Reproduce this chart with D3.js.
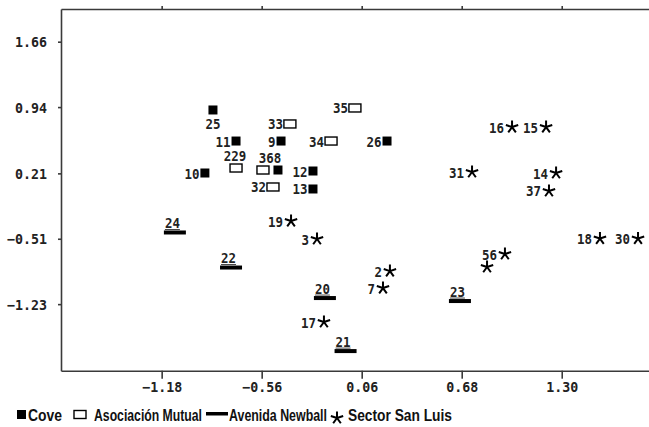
<!DOCTYPE html>
<html>
<head>
<meta charset="utf-8">
<script src="https://cdn.jsdelivr.net/npm/d3@7"></script>
<style>
  body { margin: 0; background: #fff; }
  svg { display: block; }
</style>
</head>
<body>
<div id="chart"></div>
<script>
// axis ticks as printed on the chart
const xTicks = [-1.18, -0.56, 0.06, 0.68, 1.30];
const yTicks = [1.66, 0.94, 0.21, -0.51, -1.23];

// Cove (filled squares)
const coveLabels = ["25", "11", "9", "26", "10", "", "12", "13"];
const coveX = [-0.862, -0.719, -0.440, 0.217, -0.912, -0.459, -0.242, -0.242];
const coveY = [0.908, 0.566, 0.566, 0.566, 0.214, 0.247, 0.236, 0.038];

// Asociación Mutual (hollow squares)
const mutualLabels = ["35", "33", "34", "229", "368", "32"];
const mutualX = [0.018, -0.385, -0.130, -0.719, -0.552, -0.490];
const mutualY = [0.930, 0.754, 0.566, 0.269, 0.247, 0.060];

// Avenida Newball (bars)
const newballLabels = ["24", "22", "20", "21", "23"];
const newballX = [-1.098, -0.750, -0.168, -0.040, 0.669];
const newballY = [-0.441, -0.827, -1.163, -1.747, -1.196];

// Sector San Luis (stars)
const sanLuisLabels = ["19", "3", "2", "7", "17", "16", "15", "31", "14", "37", "18", "30", "56", ""];
const sanLuisX = [-0.378, -0.217, 0.235, 0.192, -0.174, 0.992, 1.203, 0.744, 1.265, 1.221, 1.537, 1.773, 0.948, 0.837];
const sanLuisY = [-0.315, -0.513, -0.866, -1.053, -1.427, 0.720, 0.720, 0.225, 0.214, 0.016, -0.508, -0.508, -0.678, -0.821];

const legendNames = ["Cove", "Asociación Mutual", "Avenida Newball", "Sector San Luis"];

// where a label sits if not to the left of its marker
const labelPlace = {
    "25": { pos: "below" },
    "229": { pos: "above", dx: -1 },
    "368": { pos: "above", dx: 7 }
};

const width = 649, height = 427;
const margin = { left: 61, top: 9, bottom: 56 };
const monoFont = "'DejaVu Sans Mono', 'Liberation Mono', monospace";

let svg = d3.select("#chart")
    .append("svg")
    .attr("width", width)
    .attr("height", height);

let x = d3.scaleLinear()
    .domain([-1.804, 1.841])
    .range([margin.left, width]);

let y = d3.scaleLinear()
    .domain([-1.963, 2.02])
    .range([height - margin.bottom - 0.3, margin.top]);

function build(labels, xs, ys) {
    return labels.map((l, i) => ({ label: l, x: xs[i], y: ys[i] }));
}
const cove = build(coveLabels, coveX, coveY);
const mutual = build(mutualLabels, mutualX, mutualY);
const newball = build(newballLabels, newballX, newballY);
const sanLuis = build(sanLuisLabels, sanLuisX, sanLuisY);

// ---- axes ----
const axisColor = "#3a3a3a";
let fmt = d3.format(".2f");

let gLeft = svg.append("g")
    .attr("transform", "translate(" + margin.left + ",0)")
    .call(d3.axisLeft(y).tickValues(yTicks).tickSize(3).tickSizeOuter(0).tickPadding(11).tickFormat(fmt));

let gBottom = svg.append("g")
    .attr("transform", "translate(0," + y.range()[0] + ")")
    .call(d3.axisBottom(x).tickValues(xTicks).tickSize(8).tickSizeOuter(0).tickPadding(3).tickFormat(fmt));

let gTop = svg.append("g")
    .attr("transform", "translate(0," + margin.top + ")")
    .call(d3.axisTop(x).tickValues(xTicks).tickSize(3).tickSizeOuter(0).tickFormat(""));

[gLeft, gBottom, gTop].forEach(g => {
    g.select(".domain").attr("stroke", axisColor).attr("stroke-width", 1.6);
    g.selectAll(".tick line").attr("stroke", axisColor).attr("stroke-width", 1.6);
    g.selectAll(".tick text")
        .attr("fill", "#222")
        .style("font-family", monoFont)
        .style("font-weight", "bold")
        .style("font-size", "14px")
        .attr("textLength", d => fmt(d).length * 8)
        .attr("lengthAdjust", "spacingAndGlyphs");
});
gLeft.selectAll(".tick text").attr("dy", "0.36em");

// ---- markers ----
function starPath(r) {
    let p = "";
    for (let k = 0; k < 5; k++) {
        let a = (-90 + k * 72) * Math.PI / 180;
        p += "M0,0L" + (r * Math.cos(a)).toFixed(2) + "," + (r * Math.sin(a)).toFixed(2);
    }
    return p;
}

let marks = svg.append("g");

marks.selectAll("rect.cove").data(cove).enter()
    .append("rect")
    .attr("class", "cove")
    .attr("x", d => x(d.x) - 4.5)
    .attr("y", d => y(d.y) - 4.5)
    .attr("width", 9)
    .attr("height", 9)
    .attr("fill", "#000");

marks.selectAll("rect.mutual").data(mutual).enter()
    .append("rect")
    .attr("class", "mutual")
    .attr("x", d => x(d.x) - 6)
    .attr("y", d => y(d.y) - 4)
    .attr("width", 12)
    .attr("height", 8)
    .attr("fill", "#fff")
    .attr("stroke", "#000")
    .attr("stroke-width", 1.4);

marks.selectAll("rect.newball").data(newball).enter()
    .append("rect")
    .attr("class", "newball")
    .attr("x", d => x(d.x) - 11)
    .attr("y", d => y(d.y) - 2)
    .attr("width", 22)
    .attr("height", 4)
    .attr("fill", "#000");

marks.selectAll("path.sanluis").data(sanLuis).enter()
    .append("path")
    .attr("class", "sanluis")
    .attr("transform", d => "translate(" + x(d.x) + "," + y(d.y) + ")")
    .attr("d", starPath(6.5))
    .attr("fill", "none")
    .attr("stroke", "#000")
    .attr("stroke-width", 2);

// ---- point labels ----
let labelRef = svg.append("g")
    .style("font-family", monoFont)
    .style("font-weight", "bold")
    .style("font-size", "14px")
    .attr("fill", "#222");

function addLabels(data, halfW) {
    data.filter(d => d.label !== "").forEach(d => {
        let px = x(d.x), py = y(d.y);
        let place = labelPlace[d.label] || { pos: "left" };
        let t = labelRef.append("text")
            .text(d.label)
            .attr("textLength", d.label.length * 7.5)
            .attr("lengthAdjust", "spacingAndGlyphs");
        if (place.pos === "left") {
            t.attr("x", px - halfW - 1).attr("y", py + 5.5).style("text-anchor", "end");
        } else if (place.pos === "below") {
            t.attr("x", px).attr("y", py + 19.5).style("text-anchor", "middle");
        } else {
            t.attr("x", px + (place.dx || 0)).attr("y", py - 7).style("text-anchor", "middle");
        }
    });
}
addLabels(cove, 4.5);
addLabels(mutual, 6);
addLabels(sanLuis, 7);

// Newball labels sit on top of their bar, underlined
newball.forEach(d => {
    let px = x(d.x), py = y(d.y);
    labelRef.append("text")
        .text(d.label)
        .attr("x", px - 10)
        .attr("y", py - 4.5)
        .attr("textLength", d.label.length * 7.5)
        .attr("lengthAdjust", "spacingAndGlyphs");
    labelRef.append("line")
        .attr("x1", px - 10).attr("x2", px + 5)
        .attr("y1", py - 3).attr("y2", py - 3)
        .attr("stroke", "#444").attr("stroke-width", 1);
});

// ---- legend ----
let legend = svg.append("g").attr("transform", "translate(0,415)");
const legendFont = "'Liberation Sans Narrow', 'Liberation Sans', Arial, sans-serif";
const legendX = [28, 94, 229, 348];
const legendW = [34, 108, 98, 104];

legend.append("rect").attr("x", 17).attr("y", -5).attr("width", 9).attr("height", 9).attr("fill", "#000");
legend.append("rect").attr("x", 74).attr("y", -4.5).attr("width", 12).attr("height", 8)
    .attr("fill", "#fff").attr("stroke", "#000").attr("stroke-width", 1.4);
legend.append("rect").attr("x", 206).attr("y", -3).attr("width", 22).attr("height", 3.5).attr("fill", "#000");
legend.append("path").attr("transform", "translate(337,3)").attr("d", starPath(6.5))
    .attr("fill", "none").attr("stroke", "#000").attr("stroke-width", 2);

legend.selectAll("text").data(legendNames).enter()
    .append("text")
    .attr("x", (d, i) => legendX[i])
    .attr("y", 5.5)
    .attr("textLength", (d, i) => legendW[i])
    .attr("lengthAdjust", "spacingAndGlyphs")
    .style("font-family", legendFont)
    .style("font-size", "16px")
    .style("font-weight", "bold")
    .attr("fill", "#111")
    .text(d => d);
</script>
</body>
</html>
